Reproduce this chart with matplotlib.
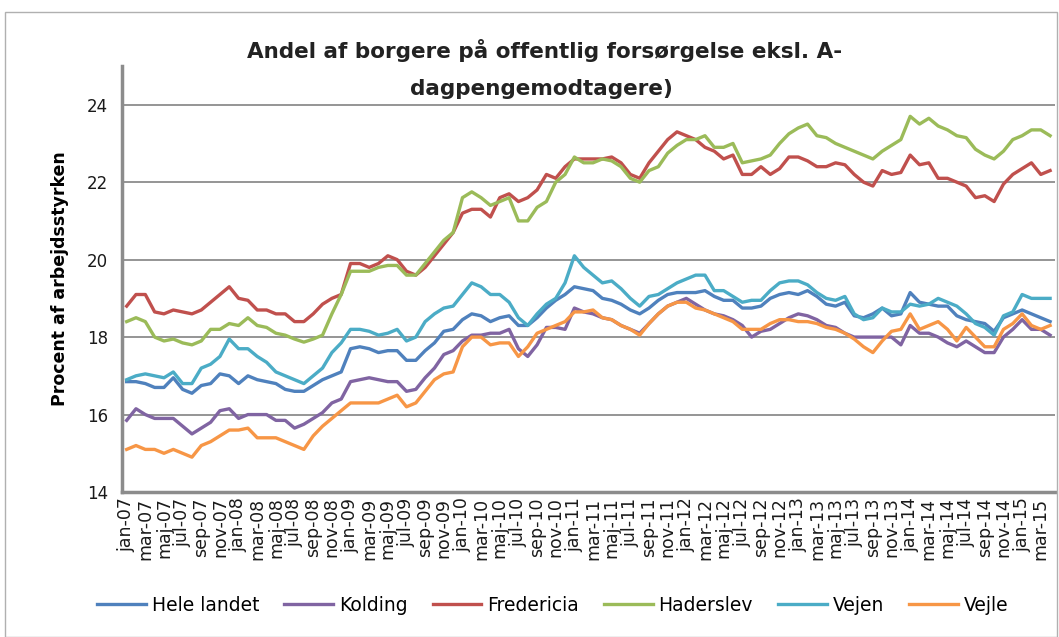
import numpy as np
import matplotlib
matplotlib.use("Agg")
import matplotlib.pyplot as plt
from matplotlib.patches import Rectangle

plt.rcParams['font.family'] = ['DejaVu Sans']

# monthly data jan-07 .. apr-15
maaneder = ['jan', 'feb', 'mar', 'apr', 'maj', 'jun', 'jul', 'aug', 'sep', 'okt', 'nov', 'dec']
labels = [f"{m}-{y:02d}" for y in range(7, 16) for m in maaneder][:100]

hele_landet = [16.85, 16.85, 16.8, 16.7, 16.7, 16.95, 16.65, 16.55, 16.75, 16.8, 17.05, 17.0, 16.8, 17.0, 16.9, 16.85, 16.8,
               16.65, 16.6, 16.6, 16.75, 16.9, 17.0, 17.1, 17.7, 17.75, 17.7, 17.6, 17.65, 17.65, 17.4, 17.4, 17.65, 17.85,
               18.15, 18.2, 18.45, 18.6, 18.55, 18.4, 18.5, 18.55, 18.3, 18.3, 18.5, 18.75, 18.95, 19.1, 19.3, 19.25, 19.2,
               19.0, 18.95, 18.85, 18.7, 18.6, 18.75, 18.95, 19.1, 19.15, 19.15, 19.15, 19.2, 19.05, 18.95, 18.95, 18.75,
               18.75, 18.8, 19.0, 19.1, 19.15, 19.1, 19.2, 19.05, 18.85, 18.8, 18.9, 18.55, 18.5, 18.6, 18.75, 18.55, 18.6,
               19.15, 18.9, 18.85, 18.8, 18.8, 18.55, 18.45, 18.4, 18.35, 18.15, 18.5, 18.6, 18.7, 18.6, 18.5, 18.4]
kolding = [15.85, 16.15, 16.0, 15.9, 15.9, 15.9, 15.7, 15.5, 15.65, 15.8, 16.1, 16.15, 15.9, 16.0, 16.0, 16.0, 15.85,
           15.85, 15.65, 15.75, 15.9, 16.05, 16.3, 16.4, 16.85, 16.9, 16.95, 16.9, 16.85, 16.85, 16.6, 16.65, 16.95, 17.2,
           17.55, 17.65, 17.9, 18.05, 18.05, 18.1, 18.1, 18.2, 17.7, 17.5, 17.8, 18.25, 18.25, 18.2, 18.75, 18.65, 18.6,
           18.5, 18.45, 18.3, 18.2, 18.1, 18.35, 18.6, 18.8, 18.9, 19.0, 18.85, 18.7, 18.6, 18.55, 18.45, 18.3,
           18.0, 18.15, 18.2, 18.35, 18.5, 18.6, 18.55, 18.45, 18.3, 18.25, 18.1, 18.0, 18.0, 18.0, 18.0, 18.0, 17.8,
           18.3, 18.1, 18.1, 18.0, 17.85, 17.75, 17.9, 17.75, 17.6, 17.6, 18.0, 18.2, 18.45, 18.2, 18.2, 18.05]
fredericia = [18.8, 19.1, 19.1, 18.65, 18.6, 18.7, 18.65, 18.6, 18.7, 18.9, 19.1, 19.3, 19.0, 18.95, 18.7, 18.7, 18.6,
              18.6, 18.4, 18.4, 18.6, 18.85, 19.0, 19.1, 19.9, 19.9, 19.8, 19.9, 20.1, 20.0, 19.7, 19.6, 19.8, 20.1,
              20.4, 20.7, 21.2, 21.3, 21.3, 21.1, 21.6, 21.7, 21.5, 21.6, 21.8, 22.2, 22.1, 22.4, 22.6, 22.6, 22.6,
              22.6, 22.65, 22.5, 22.2, 22.1, 22.5, 22.8, 23.1, 23.3, 23.2, 23.1, 22.9, 22.8, 22.6, 22.7, 22.2,
              22.2, 22.4, 22.2, 22.35, 22.65, 22.65, 22.55, 22.4, 22.4, 22.5, 22.45, 22.2, 22.0, 21.9, 22.3, 22.2, 22.25,
              22.7, 22.45, 22.5, 22.1, 22.1, 22.0, 21.9, 21.6, 21.65, 21.5, 21.95, 22.2, 22.35, 22.5, 22.2, 22.3]
haderslev = [18.4, 18.5, 18.4, 18.0, 17.9, 17.95, 17.85, 17.8, 17.9, 18.2, 18.2, 18.35, 18.3, 18.5, 18.3, 18.25, 18.1,
             18.05, 17.95, 17.87, 17.95, 18.05, 18.6, 19.1, 19.7, 19.7, 19.7, 19.8, 19.85, 19.85, 19.6, 19.6, 19.9, 20.2,
             20.5, 20.7, 21.6, 21.75, 21.6, 21.4, 21.5, 21.6, 21.0, 21.0, 21.35, 21.5, 22.0, 22.2, 22.65, 22.5, 22.5,
             22.6, 22.55, 22.4, 22.1, 22.0, 22.3, 22.4, 22.75, 22.95, 23.1, 23.1, 23.2, 22.9, 22.9, 23.0, 22.5,
             22.55, 22.6, 22.7, 23.0, 23.25, 23.4, 23.5, 23.2, 23.15, 23.0, 22.9, 22.8, 22.7, 22.6, 22.8, 22.95, 23.1,
             23.7, 23.5, 23.65, 23.45, 23.35, 23.2, 23.15, 22.85, 22.7, 22.6, 22.8, 23.1, 23.2, 23.35, 23.35, 23.2]
vejen = [16.9, 17.0, 17.05, 17.0, 16.95, 17.1, 16.8, 16.8, 17.2, 17.3, 17.5, 17.95, 17.7, 17.7, 17.5, 17.35, 17.1,
         17.0, 16.9, 16.8, 17.0, 17.2, 17.6, 17.85, 18.2, 18.2, 18.15, 18.05, 18.1, 18.2, 17.9, 18.0, 18.4, 18.6,
         18.75, 18.8, 19.1, 19.4, 19.3, 19.1, 19.1, 18.9, 18.5, 18.3, 18.6, 18.85, 19.0, 19.4, 20.1, 19.8, 19.6,
         19.4, 19.45, 19.25, 19.0, 18.8, 19.05, 19.1, 19.25, 19.4, 19.5, 19.6, 19.6, 19.2, 19.2, 19.05, 18.9,
         18.95, 18.95, 19.2, 19.4, 19.45, 19.45, 19.35, 19.15, 19.0, 18.95, 19.05, 18.6, 18.45, 18.5, 18.75, 18.65, 18.65,
         18.85, 18.8, 18.85, 19.0, 18.9, 18.8, 18.6, 18.35, 18.25, 18.05, 18.55, 18.65, 19.1, 19.0, 19.0, 19.0]
vejle = [15.1, 15.2, 15.1, 15.1, 15.0, 15.1, 15.0, 14.9, 15.2, 15.3, 15.45, 15.6, 15.6, 15.65, 15.4, 15.4, 15.4,
         15.3, 15.2, 15.1, 15.45, 15.7, 15.9, 16.1, 16.3, 16.3, 16.3, 16.3, 16.4, 16.5, 16.2, 16.3, 16.6, 16.9,
         17.05, 17.1, 17.75, 18.0, 18.0, 17.8, 17.85, 17.85, 17.5, 17.75, 18.1, 18.2, 18.3, 18.4, 18.65, 18.65, 18.7,
         18.5, 18.45, 18.3, 18.2, 18.05, 18.35, 18.6, 18.8, 18.9, 18.9, 18.75, 18.7, 18.6, 18.5, 18.4, 18.2,
         18.2, 18.2, 18.35, 18.45, 18.45, 18.4, 18.4, 18.35, 18.25, 18.2, 18.1, 17.95, 17.75, 17.6, 17.9, 18.15, 18.2,
         18.6, 18.2, 18.3, 18.4, 18.2, 17.9, 18.25, 18.0, 17.75, 17.75, 18.2, 18.35, 18.6, 18.3, 18.2, 18.3]

series = [("Hele landet", hele_landet, '#4F81BD'),
          ("Kolding", kolding, '#8064A2'),
          ("Fredericia", fredericia, '#C0504D'),
          ("Haderslev", haderslev, '#9BBB59'),
          ("Vejen", vejen, '#4BACC6'),
          ("Vejle", vejle, '#F79646')]

fig = plt.figure(figsize=(10.59, 6.37), dpi=100)
ax = fig.add_axes([0.1152, 0.2276, 0.8808, 0.6688])

x = np.arange(len(labels))
for name, vals, col in series:
    ax.plot(x, vals, color=col, lw=2.4, label=name, solid_joinstyle='round')

ax.set_xlim(-0.5, len(labels) - 0.5)
ax.set_ylim(14, 25)
ax.set_yticks([14, 16, 18, 20, 22, 24])
ax.grid(axis='y', color='#8c8c8c', lw=1.3)
ax.set_axisbelow(True)
ax.set_xticks(x[::2])
ax.set_xticklabels(labels[::2], rotation=90, fontsize=12.5, color='#1a1a1a')
ax.tick_params(axis='x', length=0, pad=4)
ax.tick_params(axis='y', length=0, labelsize=12, pad=10, labelcolor='#1a1a1a')
for s in ['top', 'right']:
    ax.spines[s].set_visible(False)
for s in ['left', 'bottom']:
    ax.spines[s].set_color('#8c8c8c')
    ax.spines[s].set_linewidth(2.5)

ax.set_ylabel("Procent af arbejdsstyrken", fontsize=12.5, fontweight='bold', labelpad=13)

fig.text(0.514, 0.921, "Andel af borgere på offentlig forsørgelse eksl. A-", ha='center', va='center',
         fontsize=15.5, fontweight='bold', color='#222222')
fig.text(0.511, 0.861, "dagpengemodtagere)", ha='center', va='center',
         fontsize=15.5, fontweight='bold', color='#222222')

fig.legend(loc='center', bbox_to_anchor=(0.522, 0.05), ncol=6, frameon=False, fontsize=13.5,
           handlelength=2.6, columnspacing=1.35, handletextpad=0.3)

fig.patches.append(Rectangle((0.005, 0.0), 0.993, 0.981, transform=fig.transFigure,
                             fill=False, edgecolor='#b0b0b0', lw=1.0))

fig.savefig("out.png", dpi=100)
